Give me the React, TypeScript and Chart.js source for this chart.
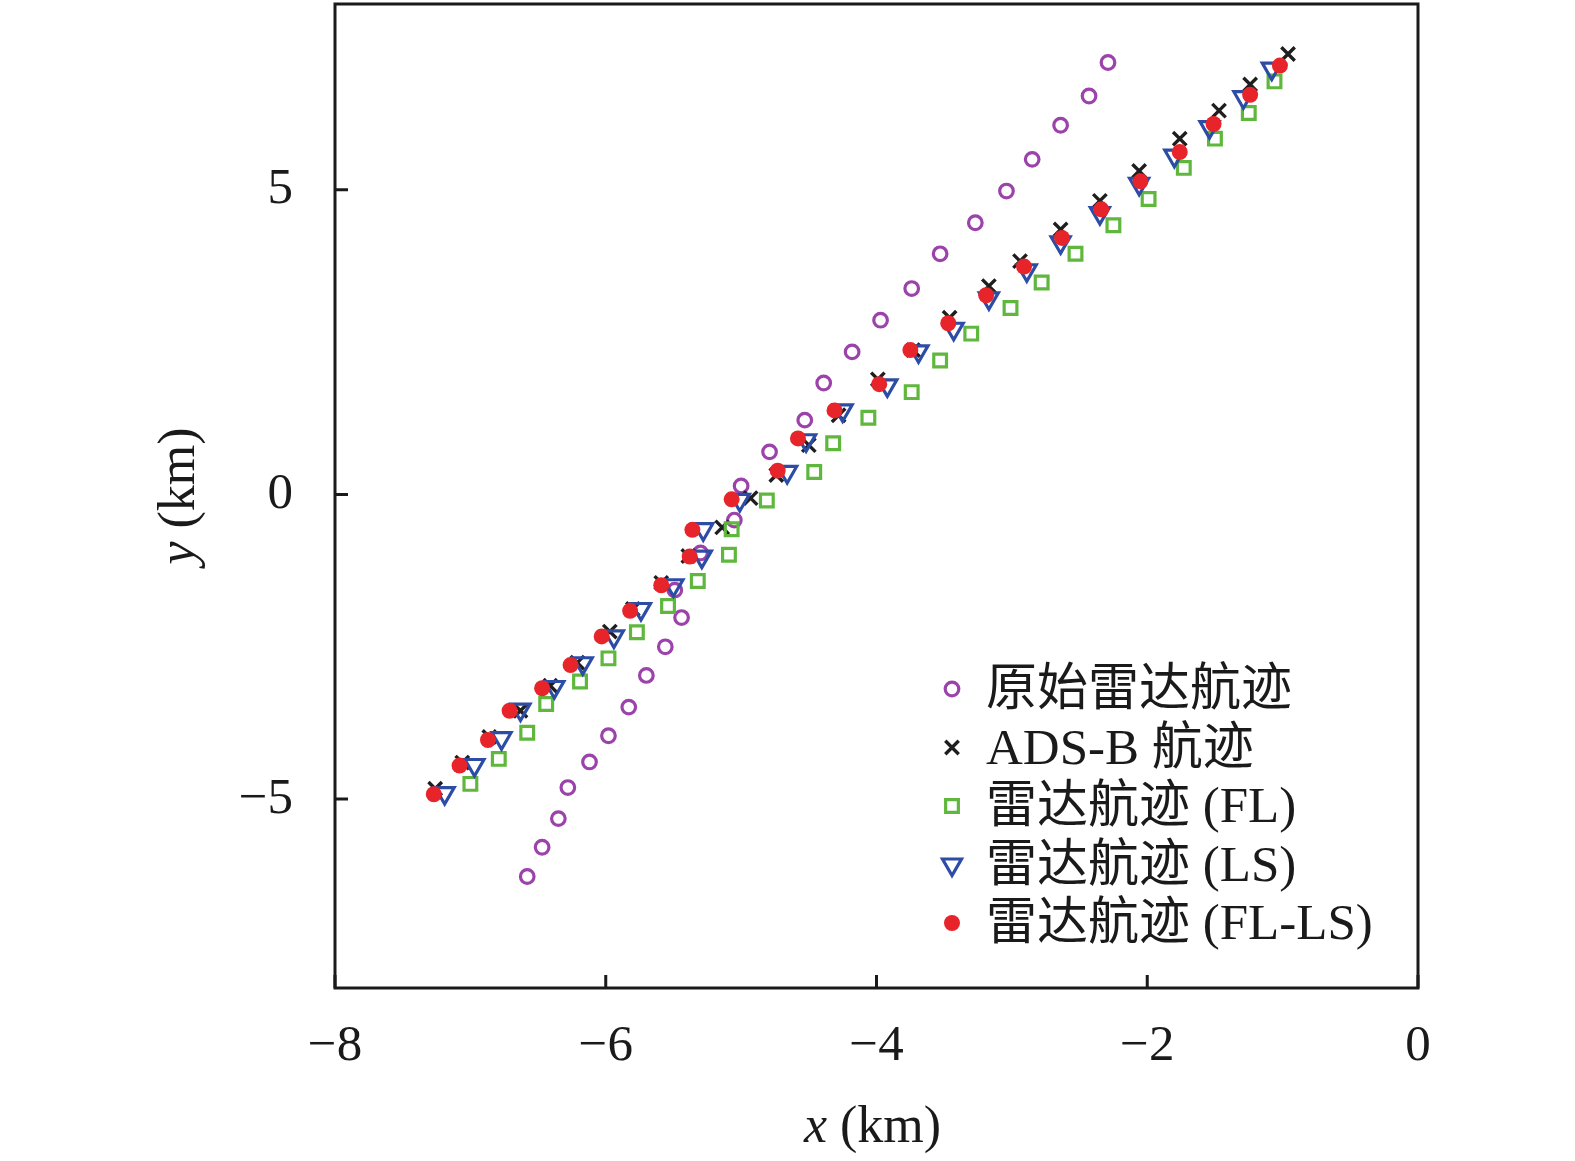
import { useEffect, useRef } from "react";
import { Chart, registerables } from "chart.js";
import { drawPoint } from "chart.js/helpers";

Chart.register(...registerables);

// series labels (legend order)
const seriesNames = ["原始雷达航迹", "ADS-B 航迹", "雷达航迹 (FL)", "雷达航迹 (LS)", "雷达航迹 (FL-LS)"];

// 原始雷达航迹
const rawX = [-6.58, -6.47, -6.35, -6.28, -6.12, -5.98, -5.83, -5.7, -5.56, -5.44, -5.49, -5.3, -5.05, -5.0, -4.79, -4.53, -4.39, -4.18, -3.97, -3.74, -3.53, -3.27, -3.04, -2.85, -2.64, -2.43, -2.29];
const rawY = [-6.27, -5.79, -5.32, -4.81, -4.39, -3.96, -3.49, -2.97, -2.5, -2.02, -1.57, -0.96, -0.42, 0.14, 0.7, 1.22, 1.83, 2.34, 2.86, 3.38, 3.95, 4.46, 4.98, 5.5, 6.06, 6.54, 7.09];

// ADS-B 航迹
const adsbX = [-7.26, -7.06, -6.86, -6.63, -6.41, -6.21, -5.97, -5.8, -5.59, -5.39, -5.14, -4.93, -4.74, -4.5, -4.28, -3.99, -3.73, -3.46, -3.17, -2.94, -2.64, -2.35, -2.06, -1.76, -1.47, -1.24, -0.96];
const adsbY = [-4.83, -4.4, -3.98, -3.55, -3.14, -2.76, -2.25, -1.88, -1.45, -1.01, -0.54, -0.06, 0.32, 0.81, 1.3, 1.89, 2.37, 2.9, 3.42, 3.83, 4.35, 4.82, 5.31, 5.84, 6.3, 6.73, 7.23];

// 雷达航迹 (FL)
const flX = [-7.0, -6.79, -6.58, -6.44, -6.19, -5.98, -5.77, -5.54, -5.32, -5.09, -5.07, -4.81, -4.46, -4.32, -4.06, -3.74, -3.53, -3.3, -3.01, -2.78, -2.53, -2.25, -1.99, -1.73, -1.5, -1.25, -1.06];
const flY = [-4.75, -4.34, -3.91, -3.44, -3.07, -2.69, -2.26, -1.83, -1.42, -0.99, -0.57, -0.1, 0.37, 0.84, 1.26, 1.68, 2.2, 2.64, 3.06, 3.48, 3.95, 4.42, 4.85, 5.36, 5.84, 6.26, 6.78];

// 雷达航迹 (LS)
const lsX = [-7.19, -6.97, -6.77, -6.63, -6.38, -6.17, -5.94, -5.74, -5.5, -5.29, -5.28, -5.01, -4.66, -4.52, -4.25, -3.92, -3.69, -3.43, -3.17, -2.89, -2.64, -2.35, -2.06, -1.8, -1.54, -1.29, -1.08];
const lsY = [-4.9, -4.44, -4.0, -3.53, -3.16, -2.77, -2.33, -1.88, -1.49, -1.02, -0.57, -0.09, 0.37, 0.89, 1.38, 1.79, 2.35, 2.72, 3.22, 3.68, 4.14, 4.62, 5.1, 5.56, 6.03, 6.52, 6.99];

// 雷达航迹 (FL-LS)
const fllsX = [-7.27, -7.08, -6.87, -6.71, -6.47, -6.26, -6.03, -5.82, -5.59, -5.38, -5.36, -5.07, -4.73, -4.58, -4.31, -3.98, -3.75, -3.47, -3.19, -2.91, -2.63, -2.34, -2.05, -1.76, -1.51, -1.24, -1.02];
const fllsY = [-4.92, -4.45, -4.03, -3.55, -3.18, -2.8, -2.33, -1.91, -1.49, -1.02, -0.58, -0.08, 0.39, 0.92, 1.38, 1.81, 2.37, 2.81, 3.27, 3.74, 4.21, 4.68, 5.14, 5.62, 6.08, 6.56, 7.04];

const xTicks = [-8, -6, -4, -2, 0];
const yTicks = [-5, 0, 5];

const seriesX = [rawX, adsbX, flX, lsX, fllsX];
const seriesY = [rawY, adsbY, flY, lsY, fllsY];

const INK = "#1a1a1a";
const SERIF = '"Liberation Serif", "Times New Roman", serif';
const LEGEND_FONT = '"Liberation Serif", "Noto Sans CJK SC", serif';

const markerStyles = [
  { pointStyle: "circle", radius: 6.8, rotation: 0, borderWidth: 3.2, borderColor: "#9b42ab", backgroundColor: "rgba(0,0,0,0)" },
  { pointStyle: "crossRot", radius: 9.5, rotation: 0, borderWidth: 3.4, borderColor: "#1e1e1e", backgroundColor: "#1e1e1e" },
  { pointStyle: "rect", radius: 9, rotation: 0, borderWidth: 3.2, borderColor: "#5fb83d", backgroundColor: "rgba(0,0,0,0)" },
  { pointStyle: "triangle", radius: 11, rotation: 180, borderWidth: 3.2, borderColor: "#2c4ca6", backgroundColor: "rgba(0,0,0,0)" },
  { pointStyle: "circle", radius: 8, rotation: 0, borderWidth: 0, borderColor: "#e8242b", backgroundColor: "#e8242b" },
];

const toMinus = (v: number) => String(v).replace("-", "\u2212");

// box, inward ticks, axis titles and the in-plot legend
const decorPlugin = {
  id: "decor",
  afterDraw(chart: any) {
    const { ctx, chartArea: a, scales } = chart;
    ctx.save();
    ctx.strokeStyle = INK;
    ctx.lineWidth = 3;
    ctx.lineCap = "square";
    ctx.strokeRect(a.left, a.top, a.right - a.left, a.bottom - a.top);
    ctx.lineCap = "butt";
    ctx.beginPath();
    scales.x.ticks.forEach((t: any) => {
      const px = scales.x.getPixelForValue(t.value);
      ctx.moveTo(px, a.bottom);
      ctx.lineTo(px, a.bottom - 13);
    });
    scales.y.ticks.forEach((t: any) => {
      const py = scales.y.getPixelForValue(t.value);
      ctx.moveTo(a.left, py);
      ctx.lineTo(a.left + 13, py);
    });
    ctx.stroke();

    // axis titles: italic variable + upright unit
    const title = (v: string, cx: number, cy: number, rot: number) => {
      ctx.save();
      ctx.translate(cx, cy);
      ctx.rotate(rot);
      ctx.fillStyle = INK;
      ctx.textBaseline = "middle";
      ctx.textAlign = "left";
      ctx.font = `italic 52px ${SERIF}`;
      const w1 = ctx.measureText(v).width;
      ctx.font = `52px ${SERIF}`;
      const unit = " (km)";
      const w2 = ctx.measureText(unit).width;
      const x0 = -(w1 + w2) / 2;
      ctx.font = `italic 52px ${SERIF}`;
      ctx.fillText(v, x0, 0);
      ctx.font = `52px ${SERIF}`;
      ctx.fillText(unit, x0 + w1, 0);
      ctx.restore();
    };
    title("x", (a.left + a.right) / 2 - 4, 1128, 0);
    title("y", 180, (a.top + a.bottom) / 2, -Math.PI / 2);

    // legend
    const mx = a.left + 617;
    const tx = a.left + 651;
    chart.data.datasets.forEach((ds: any, i: number) => {
      const my = 689 + i * 58.5;
      const s = markerStyles[i];
      ctx.strokeStyle = s.borderColor;
      ctx.fillStyle = s.backgroundColor;
      ctx.lineWidth = s.borderWidth;
      drawPoint(ctx, { pointStyle: s.pointStyle, radius: s.radius, rotation: s.rotation, borderWidth: s.borderWidth } as any, mx, my);
      ctx.fillStyle = INK;
      ctx.font = `51px ${LEGEND_FONT}`;
      ctx.textBaseline = "middle";
      ctx.textAlign = "left";
      ctx.fillText(ds.label, tx, my + 3);
    });
    ctx.restore();
  },
};

export default function App() {
  const canvasRef = useRef<HTMLCanvasElement | null>(null);

  useEffect(() => {
    if (!canvasRef.current) return;
    const datasets = seriesNames.map((name, i) => {
      const s = markerStyles[i];
      return {
        label: name,
        data: seriesX[i].map((x, j) => ({ x, y: seriesY[i][j] })),
        showLine: false,
        pointStyle: s.pointStyle,
        pointRadius: s.radius,
        pointRotation: s.rotation,
        pointBorderWidth: s.borderWidth,
        pointBorderColor: s.borderColor,
        pointBackgroundColor: s.backgroundColor,
        borderColor: s.borderColor,
        backgroundColor: s.backgroundColor,
        order: seriesNames.length - i,
      };
    });

    const chart = new Chart(canvasRef.current, {
      type: "scatter",
      data: { datasets: datasets as any },
      options: {
        responsive: true,
        maintainAspectRatio: false,
        animation: false,
        layout: { autoPadding: false, padding: { top: 4, right: 157, left: 0, bottom: 0 } },
        plugins: { legend: { display: false }, tooltip: { enabled: false } },
        scales: {
          x: {
            type: "linear",
            min: -8,
            max: 0,
            grid: { display: false, drawTicks: false },
            border: { display: false },
            ticks: {
              padding: 28,
              color: INK,
              font: { family: SERIF, size: 51 },
              maxRotation: 0,
              callback: (v: any) => toMinus(Number(v)),
            },
            afterBuildTicks: (s: any) => {
              s.ticks = xTicks.map((value) => ({ value }));
            },
            afterFit: (s: any) => {
              s.height = 173;
              s.paddingLeft = 0;
              s.paddingRight = 0;
            },
          },
          y: {
            type: "linear",
            min: -8.1,
            max: 8.05,
            grid: { display: false, drawTicks: false },
            border: { display: false },
            ticks: {
              padding: 42,
              color: INK,
              font: { family: SERIF, size: 51 },
              callback: (v: any) => toMinus(Number(v)),
            },
            afterBuildTicks: (s: any) => {
              s.ticks = yTicks.map((value) => ({ value }));
            },
            afterFit: (s: any) => {
              s.width = 335;
              s.paddingTop = 0;
              s.paddingBottom = 0;
            },
          },
        },
      },
      plugins: [decorPlugin],
    });

    return () => chart.destroy();
  }, []);

  return (
    <div style={{ position: "absolute", left: 0, top: 0, width: 1575, height: 1161, background: "#fff" }}>
      <canvas ref={canvasRef} />
    </div>
  );
}
